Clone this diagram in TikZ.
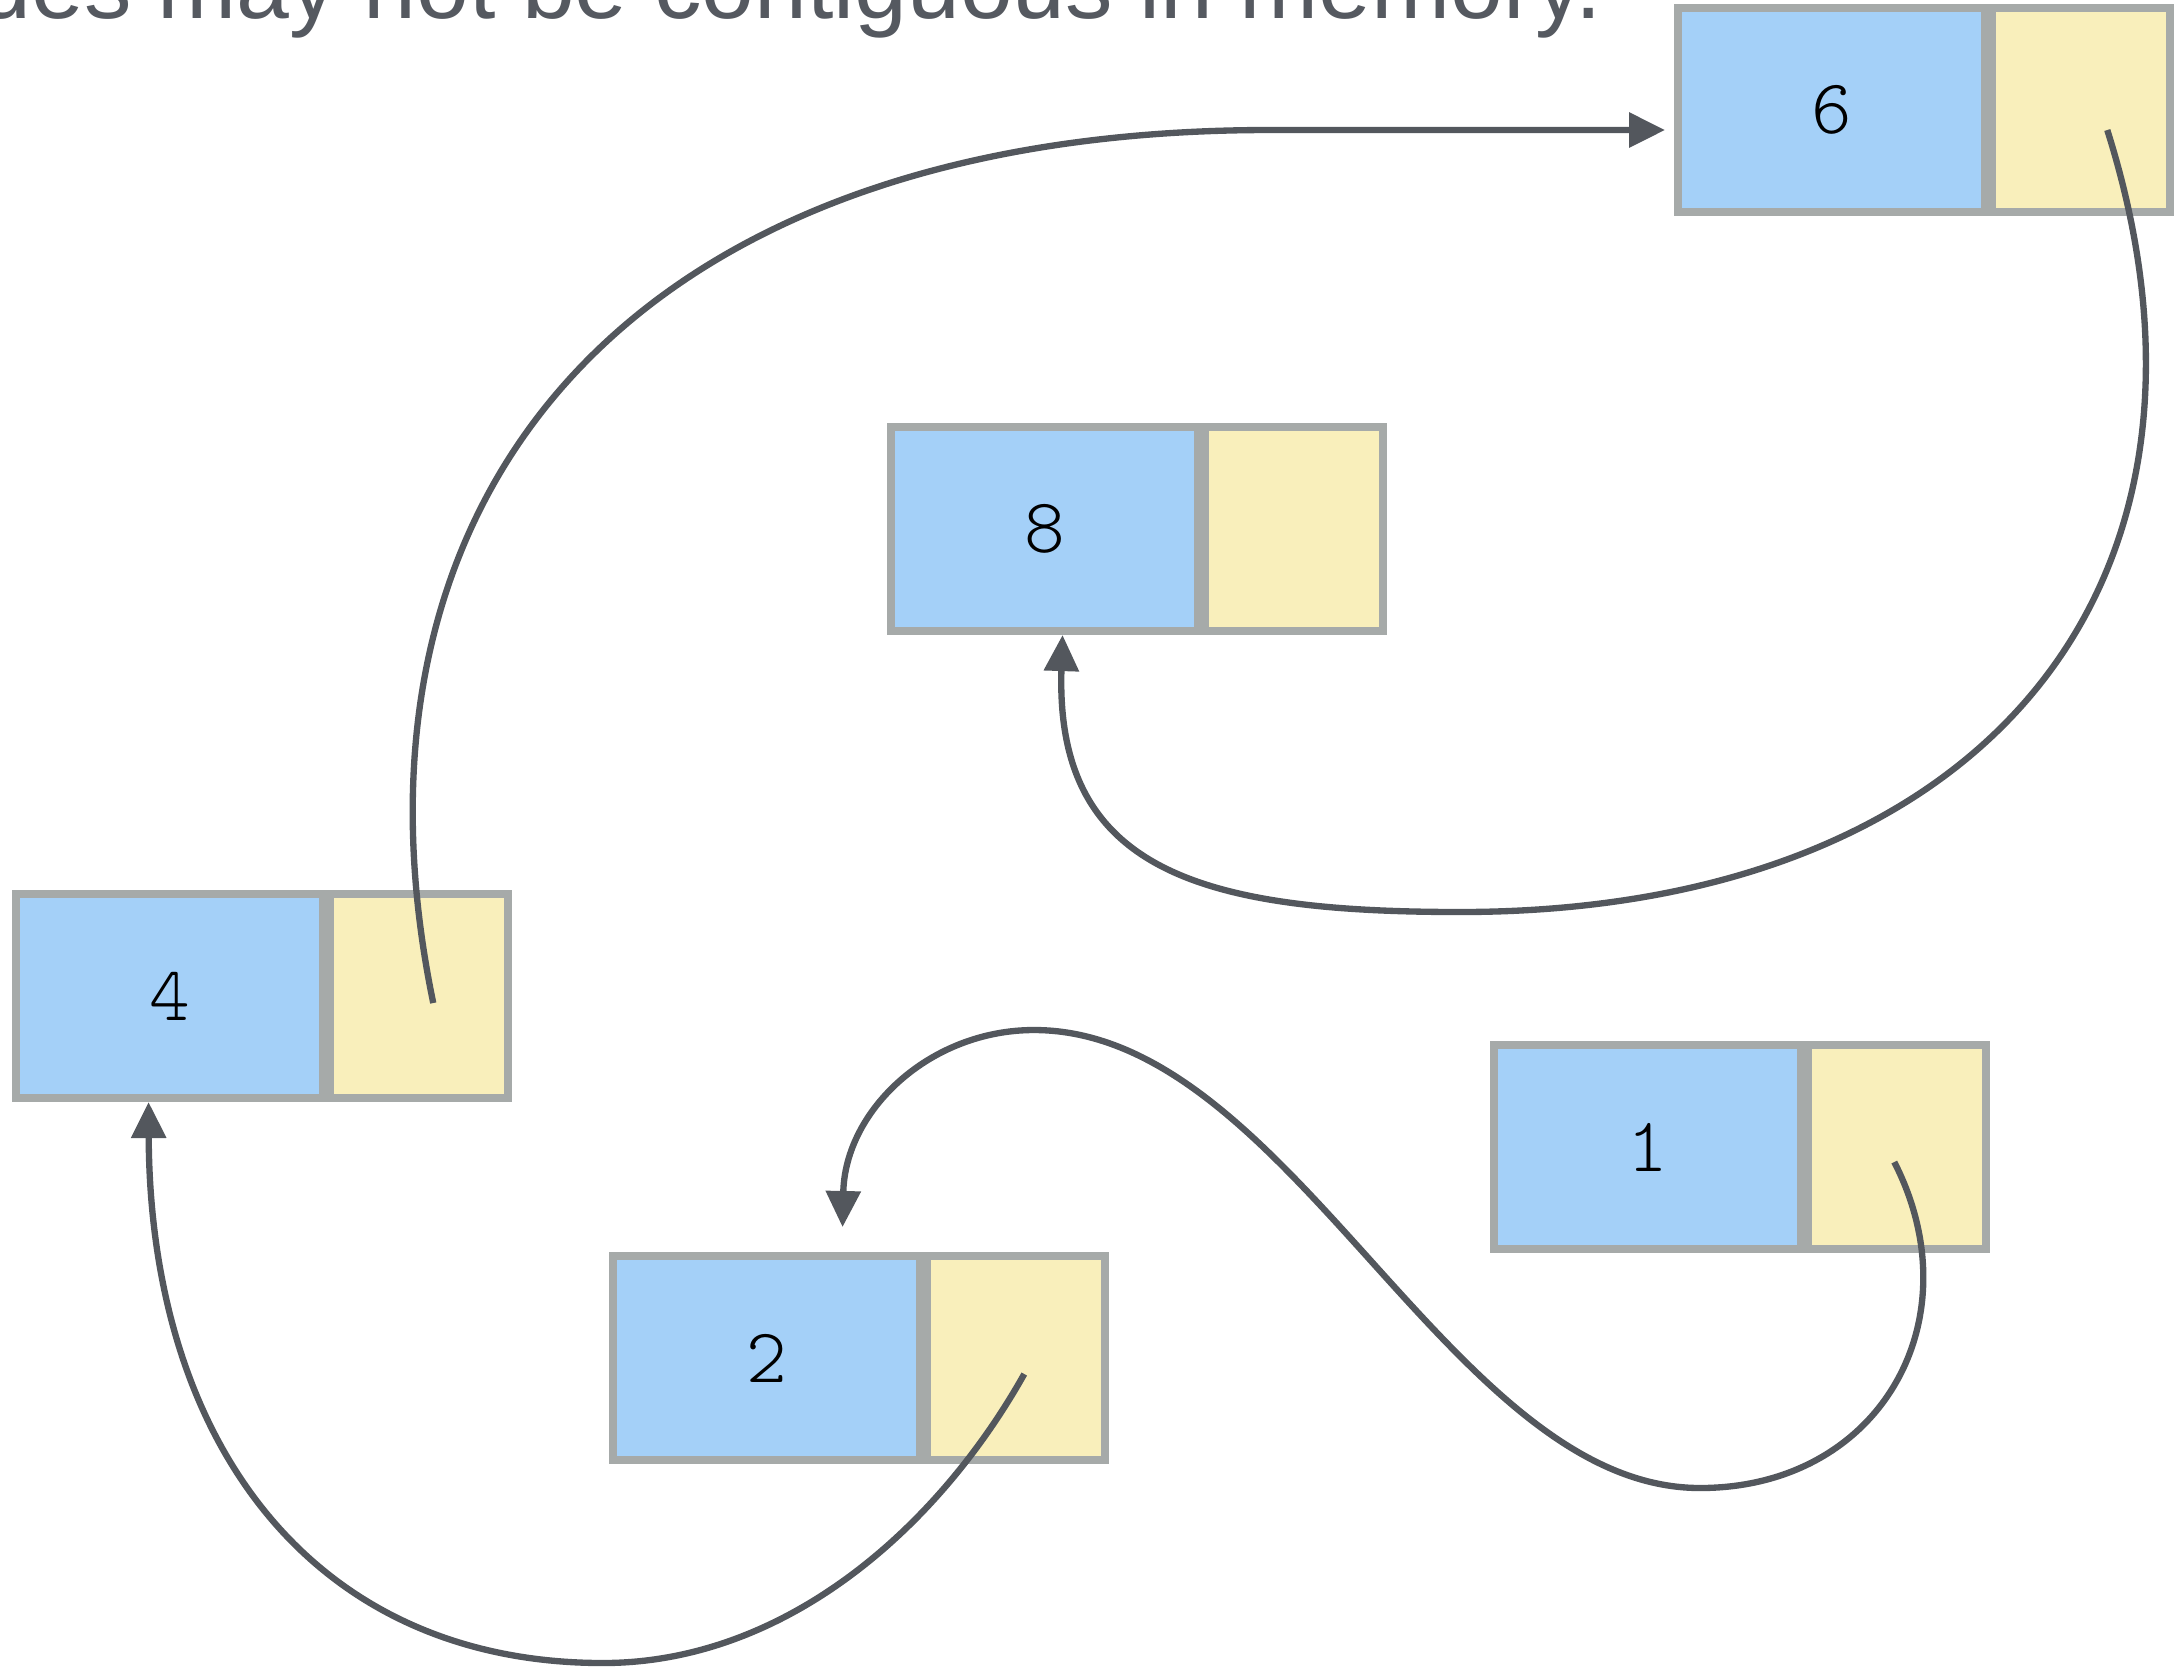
\documentclass[tikz,border=0pt]{standalone}
\usepackage{fontspec}
\newfontfamily\captionfont{Liberation Sans}
\newfontfamily\digitfont{lmmonolt10-regular.otf}
\usetikzlibrary{arrows.meta,calc}
\definecolor{keyblue}{RGB}{164,208,248}
\definecolor{ptryellow}{RGB}{249,239,187}
\definecolor{cellborder}{RGB}{166,170,169}
\definecolor{linkgray}{RGB}{83,87,93}
\definecolor{titlegray}{RGB}{85,89,96}
\tikzset{
  cell/.style={draw=cellborder, line width=2.25pt, minimum height=2.04cm, inner sep=0pt, anchor=north west},
  keycell/.style={cell, fill=keyblue, minimum width=3.07cm, font=\digitfont\fontsize{22}{26}\selectfont},
  ptrcell/.style={cell, fill=ptryellow, minimum width=1.78cm},
  link/.style={draw=linkgray, line width=1.8pt, -{Triangle[width=0.34cm,length=0.36cm]}}
}
\newcommand\listnode[4]{%
  \node[keycell] (#1k) at (#2,#3) {#4};
  \node[ptrcell] (#1p) at (#2+314.25,#3) {};
}
\begin{document}
\begin{tikzpicture}[x=0.01cm, y=-0.01cm]
\useasboundingbox (0,0) rectangle (2176,1666);
\clip (0,0) rectangle (2176,1666);
\node[anchor=base east, text=titlegray, font=\captionfont\fontsize{27}{32}\selectfont, inner sep=0pt] (title) at (1603,18) {Nodes may not be contiguous in memory.};
\listnode{n6}{1674}{4}{6}
\listnode{n8}{887}{423}{8}
\listnode{n4}{12}{890}{4}
\listnode{n2}{609}{1252}{2}
\listnode{n1}{1490}{1041}{1}
% 4 -> 6
\draw[link] ($(n4p.center)+(14,7)$) .. controls (328,495) and (630,130) .. (1270,130) -- ($(n6k.west)+(-9,20)$);
% 6 -> 8
\draw[link] ($(n6p.center)+(26,20)$) .. controls (2252,588) and (1980,912) .. (1460,912)
  .. controls (1200,912) and (1055,870) .. ($(n8k.south)+(18,0)$);
% 1 -> 2
\draw[link] ($(n1p.center)+(-3,15)$) .. controls (1975,1320) and (1880,1488) .. (1700,1488)
  .. controls (1450,1488) and (1290,1030) .. (1034,1030)
  .. controls (930,1030) and (845,1110) .. ($(n2k.north)+(76,-25)$);
% 2 -> 4
\draw[link] ($(n2p.center)+(8,16)$) .. controls (936,1531) and (783,1663) .. (603,1663)
  .. controls (313,1663) and (150,1443) .. ($(n4k.south)+(-21,0)$);
\end{tikzpicture}
\end{document}
